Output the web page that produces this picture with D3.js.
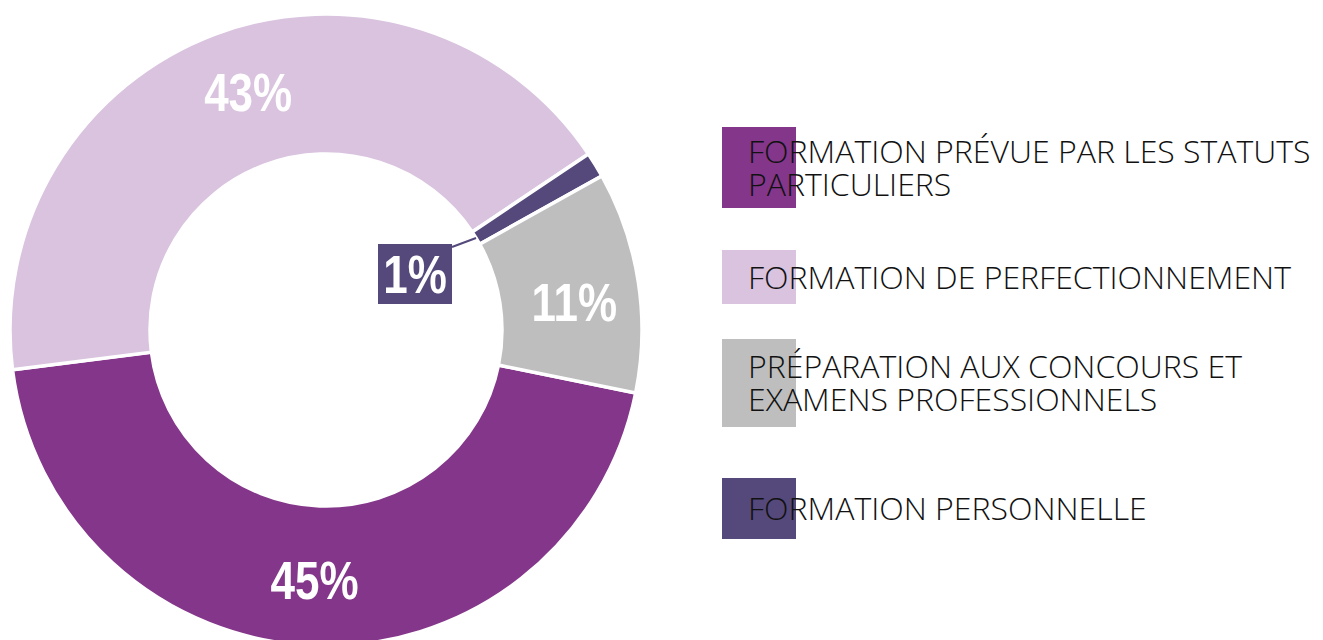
<!DOCTYPE html>
<html>
<head>
<meta charset="utf-8">
<script src="https://cdn.jsdelivr.net/npm/d3@7"></script>
<style>
  html, body { margin: 0; padding: 0; background: #fff; }
  svg { display: block; }
</style>
</head>
<body>
<svg id="chart" width="1323" height="640"></svg>
<script>
// Données
const categories = [
    "FORMATION PRÉVUE PAR LES STATUTS PARTICULIERS",
    "FORMATION DE PERFECTIONNEMENT",
    "PRÉPARATION AUX CONCOURS ET EXAMENS PROFESSIONNELS",
    "FORMATION PERSONNELLE"
];
const legendLines = [
    ["FORMATION PRÉVUE PAR LES STATUTS", "PARTICULIERS"],
    ["FORMATION DE PERFECTIONNEMENT"],
    ["PRÉPARATION AUX CONCOURS ET", "EXAMENS PROFESSIONNELS"],
    ["FORMATION PERSONNELLE"]
];
const values = [44.8, 42.6, 11.3, 1.3];      // part de chaque slice
const labels = ["45%", "43%", "11%", "1%"];  // étiquettes affichées
const colors = ["#84368a", "#d9c3df", "#bebebe", "#55497b"];
const pieOrder = [0, 1, 3, 2]; // ordre horaire autour de l'anneau

const width = 1323;
const height = 640;
const cx = 326, cy = 330;
const outerR = 316, innerR = 176;
const labelR = 250;
const labelNudge = [0.5, 2.4, 2.3, 0]; // décalage angulaire des étiquettes (degrés)

const svg = d3.select("#chart");

const data = pieOrder.map(i => ({ i: i, value: values[i] }));

const pie = d3.pie()
    .sort(null)
    .value(d => d.value)
    .startAngle(101.5 * Math.PI / 180)
    .endAngle(101.5 * Math.PI / 180 + 2 * Math.PI);

const arc = d3.arc().innerRadius(innerR).outerRadius(outerR);

const g = svg.append("g").attr("transform", `translate(${cx},${cy})`);
const arcs = pie(data);

g.selectAll("path.slice")
    .data(arcs)
    .enter().append("path")
    .attr("class", "slice")
    .attr("d", arc)
    .attr("fill", d => colors[d.data.i])
    .attr("stroke", "#fff")
    .attr("stroke-width", 3.5)
    .attr("stroke-linejoin", "miter");

// police grasse condensée : Liberation Sans compressée horizontalement
const pctText = (sel, x, y, txt) => {
    sel.append("text")
        .attr("transform", `translate(${x},${y}) scale(0.83,1)`)
        .attr("text-anchor", "middle")
        .attr("fill", "#fff")
        .style("font-family", "'Liberation Sans', Arial, sans-serif")
        .style("font-weight", "bold")
        .style("font-size", "53px")
        .text(txt);
};

// étiquettes dans l'anneau (sauf le petit 1%)
arcs.filter(d => d.data.value > 5).forEach(d => {
    const a = (d.startAngle + d.endAngle) / 2 + labelNudge[d.data.i] * Math.PI / 180;
    const x = Math.sin(a) * labelR;
    const y = -Math.cos(a) * labelR;
    pctText(g, x, y + 19, labels[d.data.i]);
});

// callout pour le 1%
const small = arcs.find(d => d.data.value <= 5);
const mid = (small.startAngle + small.endAngle) / 2;
const tip = [Math.sin(mid) * innerR, -Math.cos(mid) * innerR];
const box = { x: 378 - cx, y: 244 - cy, w: 74, h: 60 };

g.append("line")
    .attr("x1", box.x + box.w)
    .attr("y1", box.y + 3)
    .attr("x2", tip[0])
    .attr("y2", tip[1])
    .attr("stroke", colors[small.data.i])
    .attr("stroke-width", 2);

g.append("rect")
    .attr("x", box.x)
    .attr("y", box.y)
    .attr("width", box.w)
    .attr("height", box.h)
    .attr("fill", colors[small.data.i]);

pctText(g, box.x + box.w / 2, box.y + box.h / 2 + 19, labels[small.data.i]);

// Légende
const legendX = 722;
const swatchW = 74;
const legendBoxes = [[127, 81], [250, 54], [339, 88], [478, 61]]; // [y, hauteur]
const lineH = 33;

const legend = svg.append("g").attr("class", "legend");

categories.forEach((c, i) => {
    const [y0, h] = legendBoxes[i];
    const item = legend.append("g");
    item.append("rect")
        .attr("x", legendX)
        .attr("y", y0)
        .attr("width", swatchW)
        .attr("height", h)
        .attr("fill", colors[i]);

    const lines = legendLines[i];
    const centerY = y0 + h / 2;
    const firstBase = centerY - (lines.length - 1) * lineH / 2 + 11.5;
    lines.forEach((t, k) => {
        item.append("text")
            .attr("x", legendX + 26)
            .attr("y", firstBase + k * lineH)
            .attr("fill", "#111")
            .style("font-family", "'Open Sans', Lato, sans-serif")
            .style("font-weight", "300")
            .style("font-size", "32px")
            .text(t);
    });
});
</script>
</body>
</html>
